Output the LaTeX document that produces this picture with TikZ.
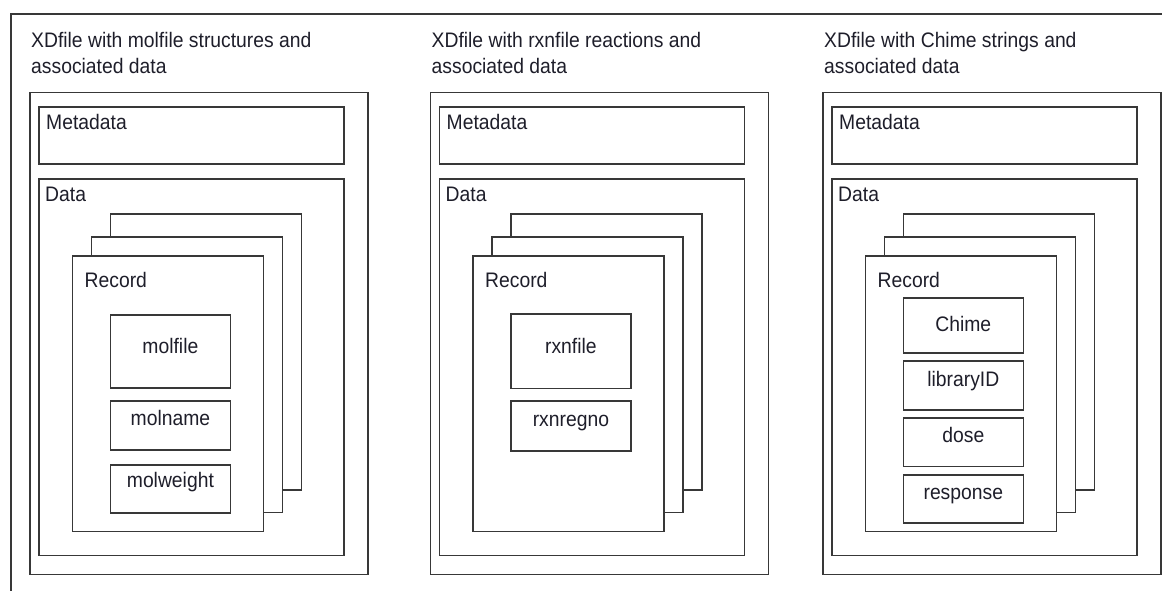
\documentclass[tikz,border=0pt]{standalone}
\usepackage{fontspec}
\setmainfont[FakeStretch=0.92]{Liberation Sans}

\definecolor{linegray}{HTML}{383838}
\definecolor{textgray}{HTML}{1E1E2A}

\tikzset{
  box/.style={draw=linegray, line width=1.5pt, fill=white},
  lbl/.style={anchor=base west, inner sep=0pt, text=textgray},
  field/.style={box, anchor=north, minimum width=120pt, inner sep=0pt, text=textgray},
}

\begin{document}
\begin{tikzpicture}[x=1pt, y=-1pt, font=\fontsize{21}{25.6}\selectfont]
  \useasboundingbox (0,0) rectangle (1162,591);
  % page frame, cut off at the right and bottom
  \draw[linegray, line width=1.5pt] (1162,14) -- (11,14) -- (11,591);

  % the three XDfile panels
  \foreach \i/\L/\what in {1/30/molfile structures, 2/430.5/rxnfile reactions, 3/823/Chime strings} {
    \begin{scope}[xshift=\L pt]
      \draw[box] (0,92.5) rectangle (338,574.5);
      % base anchor sits on the last line
      \node[lbl, align=left] (title\i) at (1,73.3) {XDfile with \what\ and\\associated data};
      \draw[box] (9,107) rectangle (314,164);
      \node[lbl] (meta\i) at (16,129.3) {Metadata};
      \draw[box] (9,179) rectangle (314,555.5);
      \node[lbl] (data\i) at (15,201.7) {Data};
      % stacked records, back to front
      \draw[box] (80.5,214) rectangle (271.5,490);
      \draw[box] (61.5,237) rectangle (252.5,512.3);
      \draw[box] (42.5,256) rectangle (233.5,531.5);
      \node[lbl] (rec\i) at (54.5,287) {Record};
    \end{scope}
  }

  % fields of a molfile record
  \node[field, text height=38.7pt, text depth=34.6pt] (molfile) at (170.4,314) {molfile};
  \node[field, text height=25pt, text depth=24.3pt] (molname) at (170.4,400) {molname};
  \node[field, text height=22.4pt, text depth=25.6pt] (molweight) at (170.4,464.3) {molweight};

  % fields of a rxnfile record
  \node[field, text height=39.4pt, text depth=35pt] (rxnfile) at (570.9,313.3) {rxnfile};
  \node[field, text height=25.7pt, text depth=24.3pt] (rxnregno) at (570.9,400) {rxnregno};

  % fields of a Chime record
  \node[field, text height=33.4pt, text depth=21.6pt] (chime) at (963.3,297.3) {Chime};
  \node[field, text height=26pt, text depth=23.3pt] (libid) at (963.3,360) {libraryID};
  \node[field, text height=24.4pt, text depth=24pt] (dose) at (963.3,417.3) {dose};
  \node[field, text height=25pt, text depth=23.3pt] (response) at (963.3,474) {response};
\end{tikzpicture}
\end{document}
